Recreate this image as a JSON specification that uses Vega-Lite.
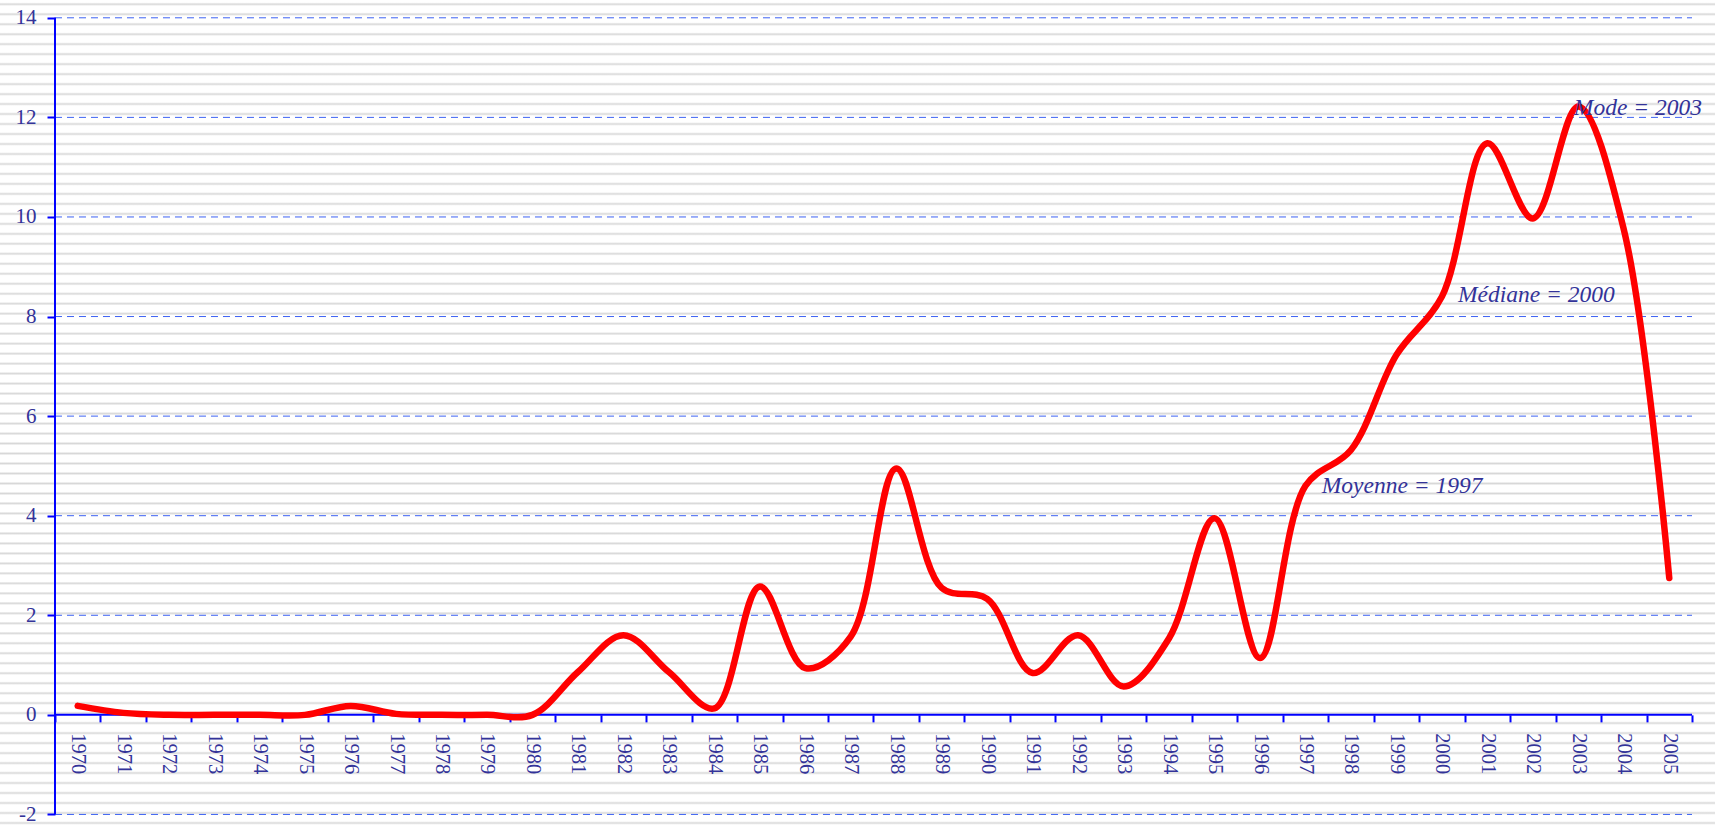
{
  "$schema": "https://vega.github.io/schema/vega-lite/v6.json",
  "width": 1715,
  "height": 825,
  "autosize": "none",
  "padding": 0,
  "background": "#ffffff",
  "view": {
    "stroke": null,
    "fill": {
      "gradient": "linear", "x1": 0, "y1": 0, "x2": 0, "y2": 1.2121212,
      "stops": [
        {"offset":0.0024,"color":"#fff"},{"offset":0.0042,"color":"#d8d8d8"},{"offset":0.0060,"color":"#fff"},
        {"offset":0.0124,"color":"#fff"},{"offset":0.0142,"color":"#d8d8d8"},{"offset":0.0160,"color":"#fff"},
        {"offset":0.0224,"color":"#fff"},{"offset":0.0242,"color":"#d8d8d8"},{"offset":0.0260,"color":"#fff"},
        {"offset":0.0324,"color":"#fff"},{"offset":0.0342,"color":"#d8d8d8"},{"offset":0.0360,"color":"#fff"},
        {"offset":0.0423,"color":"#fff"},{"offset":0.0441,"color":"#d8d8d8"},{"offset":0.0459,"color":"#fff"},
        {"offset":0.0523,"color":"#fff"},{"offset":0.0541,"color":"#d8d8d8"},{"offset":0.0559,"color":"#fff"},
        {"offset":0.0623,"color":"#fff"},{"offset":0.0641,"color":"#d8d8d8"},{"offset":0.0659,"color":"#fff"},
        {"offset":0.0723,"color":"#fff"},{"offset":0.0741,"color":"#d8d8d8"},{"offset":0.0759,"color":"#fff"},
        {"offset":0.0823,"color":"#fff"},{"offset":0.0841,"color":"#d8d8d8"},{"offset":0.0859,"color":"#fff"},
        {"offset":0.0923,"color":"#fff"},{"offset":0.0941,"color":"#d8d8d8"},{"offset":0.0959,"color":"#fff"},
        {"offset":0.1022,"color":"#fff"},{"offset":0.1040,"color":"#d8d8d8"},{"offset":0.1058,"color":"#fff"},
        {"offset":0.1122,"color":"#fff"},{"offset":0.1140,"color":"#d8d8d8"},{"offset":0.1158,"color":"#fff"},
        {"offset":0.1222,"color":"#fff"},{"offset":0.1240,"color":"#d8d8d8"},{"offset":0.1258,"color":"#fff"},
        {"offset":0.1322,"color":"#fff"},{"offset":0.1340,"color":"#d8d8d8"},{"offset":0.1358,"color":"#fff"},
        {"offset":0.1422,"color":"#fff"},{"offset":0.1440,"color":"#d8d8d8"},{"offset":0.1458,"color":"#fff"},
        {"offset":0.1522,"color":"#fff"},{"offset":0.1540,"color":"#d8d8d8"},{"offset":0.1558,"color":"#fff"},
        {"offset":0.1622,"color":"#fff"},{"offset":0.1640,"color":"#d8d8d8"},{"offset":0.1658,"color":"#fff"},
        {"offset":0.1721,"color":"#fff"},{"offset":0.1739,"color":"#d8d8d8"},{"offset":0.1757,"color":"#fff"},
        {"offset":0.1821,"color":"#fff"},{"offset":0.1839,"color":"#d8d8d8"},{"offset":0.1857,"color":"#fff"},
        {"offset":0.1921,"color":"#fff"},{"offset":0.1939,"color":"#d8d8d8"},{"offset":0.1957,"color":"#fff"},
        {"offset":0.2021,"color":"#fff"},{"offset":0.2039,"color":"#d8d8d8"},{"offset":0.2057,"color":"#fff"},
        {"offset":0.2121,"color":"#fff"},{"offset":0.2139,"color":"#d8d8d8"},{"offset":0.2157,"color":"#fff"},
        {"offset":0.2221,"color":"#fff"},{"offset":0.2239,"color":"#d8d8d8"},{"offset":0.2257,"color":"#fff"},
        {"offset":0.2321,"color":"#fff"},{"offset":0.2339,"color":"#d8d8d8"},{"offset":0.2357,"color":"#fff"},
        {"offset":0.2420,"color":"#fff"},{"offset":0.2438,"color":"#d8d8d8"},{"offset":0.2456,"color":"#fff"},
        {"offset":0.2520,"color":"#fff"},{"offset":0.2538,"color":"#d8d8d8"},{"offset":0.2556,"color":"#fff"},
        {"offset":0.2620,"color":"#fff"},{"offset":0.2638,"color":"#d8d8d8"},{"offset":0.2656,"color":"#fff"},
        {"offset":0.2720,"color":"#fff"},{"offset":0.2738,"color":"#d8d8d8"},{"offset":0.2756,"color":"#fff"},
        {"offset":0.2820,"color":"#fff"},{"offset":0.2838,"color":"#d8d8d8"},{"offset":0.2856,"color":"#fff"},
        {"offset":0.2920,"color":"#fff"},{"offset":0.2938,"color":"#d8d8d8"},{"offset":0.2956,"color":"#fff"},
        {"offset":0.3019,"color":"#fff"},{"offset":0.3037,"color":"#d8d8d8"},{"offset":0.3055,"color":"#fff"},
        {"offset":0.3119,"color":"#fff"},{"offset":0.3137,"color":"#d8d8d8"},{"offset":0.3155,"color":"#fff"},
        {"offset":0.3219,"color":"#fff"},{"offset":0.3237,"color":"#d8d8d8"},{"offset":0.3255,"color":"#fff"},
        {"offset":0.3319,"color":"#fff"},{"offset":0.3337,"color":"#d8d8d8"},{"offset":0.3355,"color":"#fff"},
        {"offset":0.3419,"color":"#fff"},{"offset":0.3437,"color":"#d8d8d8"},{"offset":0.3455,"color":"#fff"},
        {"offset":0.3519,"color":"#fff"},{"offset":0.3537,"color":"#d8d8d8"},{"offset":0.3555,"color":"#fff"},
        {"offset":0.3619,"color":"#fff"},{"offset":0.3637,"color":"#d8d8d8"},{"offset":0.3655,"color":"#fff"},
        {"offset":0.3718,"color":"#fff"},{"offset":0.3736,"color":"#d8d8d8"},{"offset":0.3754,"color":"#fff"},
        {"offset":0.3818,"color":"#fff"},{"offset":0.3836,"color":"#d8d8d8"},{"offset":0.3854,"color":"#fff"},
        {"offset":0.3918,"color":"#fff"},{"offset":0.3936,"color":"#d8d8d8"},{"offset":0.3954,"color":"#fff"},
        {"offset":0.4018,"color":"#fff"},{"offset":0.4036,"color":"#d8d8d8"},{"offset":0.4054,"color":"#fff"},
        {"offset":0.4118,"color":"#fff"},{"offset":0.4136,"color":"#d8d8d8"},{"offset":0.4154,"color":"#fff"},
        {"offset":0.4218,"color":"#fff"},{"offset":0.4236,"color":"#d8d8d8"},{"offset":0.4254,"color":"#fff"},
        {"offset":0.4318,"color":"#fff"},{"offset":0.4336,"color":"#d8d8d8"},{"offset":0.4354,"color":"#fff"},
        {"offset":0.4417,"color":"#fff"},{"offset":0.4435,"color":"#d8d8d8"},{"offset":0.4453,"color":"#fff"},
        {"offset":0.4517,"color":"#fff"},{"offset":0.4535,"color":"#d8d8d8"},{"offset":0.4553,"color":"#fff"},
        {"offset":0.4617,"color":"#fff"},{"offset":0.4635,"color":"#d8d8d8"},{"offset":0.4653,"color":"#fff"},
        {"offset":0.4717,"color":"#fff"},{"offset":0.4735,"color":"#d8d8d8"},{"offset":0.4753,"color":"#fff"},
        {"offset":0.4817,"color":"#fff"},{"offset":0.4835,"color":"#d8d8d8"},{"offset":0.4853,"color":"#fff"},
        {"offset":0.4917,"color":"#fff"},{"offset":0.4935,"color":"#d8d8d8"},{"offset":0.4953,"color":"#fff"},
        {"offset":0.5016,"color":"#fff"},{"offset":0.5034,"color":"#d8d8d8"},{"offset":0.5052,"color":"#fff"},
        {"offset":0.5116,"color":"#fff"},{"offset":0.5134,"color":"#d8d8d8"},{"offset":0.5152,"color":"#fff"},
        {"offset":0.5216,"color":"#fff"},{"offset":0.5234,"color":"#d8d8d8"},{"offset":0.5252,"color":"#fff"},
        {"offset":0.5316,"color":"#fff"},{"offset":0.5334,"color":"#d8d8d8"},{"offset":0.5352,"color":"#fff"},
        {"offset":0.5416,"color":"#fff"},{"offset":0.5434,"color":"#d8d8d8"},{"offset":0.5452,"color":"#fff"},
        {"offset":0.5516,"color":"#fff"},{"offset":0.5534,"color":"#d8d8d8"},{"offset":0.5552,"color":"#fff"},
        {"offset":0.5616,"color":"#fff"},{"offset":0.5634,"color":"#d8d8d8"},{"offset":0.5652,"color":"#fff"},
        {"offset":0.5715,"color":"#fff"},{"offset":0.5733,"color":"#d8d8d8"},{"offset":0.5751,"color":"#fff"},
        {"offset":0.5815,"color":"#fff"},{"offset":0.5833,"color":"#d8d8d8"},{"offset":0.5851,"color":"#fff"},
        {"offset":0.5915,"color":"#fff"},{"offset":0.5933,"color":"#d8d8d8"},{"offset":0.5951,"color":"#fff"},
        {"offset":0.6015,"color":"#fff"},{"offset":0.6033,"color":"#d8d8d8"},{"offset":0.6051,"color":"#fff"},
        {"offset":0.6115,"color":"#fff"},{"offset":0.6133,"color":"#d8d8d8"},{"offset":0.6151,"color":"#fff"},
        {"offset":0.6215,"color":"#fff"},{"offset":0.6233,"color":"#d8d8d8"},{"offset":0.6251,"color":"#fff"},
        {"offset":0.6315,"color":"#fff"},{"offset":0.6333,"color":"#d8d8d8"},{"offset":0.6351,"color":"#fff"},
        {"offset":0.6414,"color":"#fff"},{"offset":0.6432,"color":"#d8d8d8"},{"offset":0.6450,"color":"#fff"},
        {"offset":0.6514,"color":"#fff"},{"offset":0.6532,"color":"#d8d8d8"},{"offset":0.6550,"color":"#fff"},
        {"offset":0.6614,"color":"#fff"},{"offset":0.6632,"color":"#d8d8d8"},{"offset":0.6650,"color":"#fff"},
        {"offset":0.6714,"color":"#fff"},{"offset":0.6732,"color":"#d8d8d8"},{"offset":0.6750,"color":"#fff"},
        {"offset":0.6814,"color":"#fff"},{"offset":0.6832,"color":"#d8d8d8"},{"offset":0.6850,"color":"#fff"},
        {"offset":0.6914,"color":"#fff"},{"offset":0.6932,"color":"#d8d8d8"},{"offset":0.6950,"color":"#fff"},
        {"offset":0.7013,"color":"#fff"},{"offset":0.7031,"color":"#d8d8d8"},{"offset":0.7049,"color":"#fff"},
        {"offset":0.7113,"color":"#fff"},{"offset":0.7131,"color":"#d8d8d8"},{"offset":0.7149,"color":"#fff"},
        {"offset":0.7213,"color":"#fff"},{"offset":0.7231,"color":"#d8d8d8"},{"offset":0.7249,"color":"#fff"},
        {"offset":0.7313,"color":"#fff"},{"offset":0.7331,"color":"#d8d8d8"},{"offset":0.7349,"color":"#fff"},
        {"offset":0.7413,"color":"#fff"},{"offset":0.7431,"color":"#d8d8d8"},{"offset":0.7449,"color":"#fff"},
        {"offset":0.7513,"color":"#fff"},{"offset":0.7531,"color":"#d8d8d8"},{"offset":0.7549,"color":"#fff"},
        {"offset":0.7613,"color":"#fff"},{"offset":0.7631,"color":"#d8d8d8"},{"offset":0.7649,"color":"#fff"},
        {"offset":0.7712,"color":"#fff"},{"offset":0.7730,"color":"#d8d8d8"},{"offset":0.7748,"color":"#fff"},
        {"offset":0.7812,"color":"#fff"},{"offset":0.7830,"color":"#d8d8d8"},{"offset":0.7848,"color":"#fff"},
        {"offset":0.7912,"color":"#fff"},{"offset":0.7930,"color":"#d8d8d8"},{"offset":0.7948,"color":"#fff"},
        {"offset":0.8012,"color":"#fff"},{"offset":0.8030,"color":"#d8d8d8"},{"offset":0.8048,"color":"#fff"},
        {"offset":0.8112,"color":"#fff"},{"offset":0.8130,"color":"#d8d8d8"},{"offset":0.8148,"color":"#fff"},
        {"offset":0.8212,"color":"#fff"},{"offset":0.8230,"color":"#d8d8d8"},{"offset":0.8248,"color":"#fff"}
      ]
    }
  },
  "layer": [
    {
      "data": {"values": [{"g": -2}, {"g": 2}, {"g": 4}, {"g": 6}, {"g": 8}, {"g": 10}, {"g": 12}, {"g": 14}]},
      "mark": {"type": "rule", "stroke": "#3d62f2", "strokeWidth": 1, "strokeDash": [7, 5]},
      "encoding": {
        "x": {"datum": 1969.5, "type": "quantitative"},
        "x2": {"datum": 2005.5},
        "y": {"field": "g", "type": "quantitative"}
      }
    },
    {
      "data": {"values": [{}]},
      "mark": {"type": "rule", "stroke": "#0000ff", "strokeWidth": 2},
      "encoding": {
        "x": {"datum": 1969.5, "type": "quantitative"},
        "y": {"datum": -2, "type": "quantitative"},
        "y2": {"datum": 14}
      }
    },
    {
      "data": {"values": [{}]},
      "mark": {"type": "rule", "stroke": "#0000ff", "strokeWidth": 2},
      "encoding": {
        "x": {"datum": 1969.5, "type": "quantitative"},
        "x2": {"datum": 2005.5},
        "y": {"datum": 0, "type": "quantitative"}
      }
    },
    {
      "data": {"values": [
        {"year": 1970, "value": 0.18}, {"year": 1971, "value": 0.04}, {"year": 1972, "value": 0.0},
        {"year": 1973, "value": 0.0}, {"year": 1974, "value": 0.0}, {"year": 1975, "value": 0.0},
        {"year": 1976, "value": 0.18}, {"year": 1977, "value": 0.02}, {"year": 1978, "value": 0.0},
        {"year": 1979, "value": 0.0}, {"year": 1980, "value": 0.0}, {"year": 1981, "value": 0.86},
        {"year": 1982, "value": 1.6}, {"year": 1983, "value": 0.86}, {"year": 1984, "value": 0.13},
        {"year": 1985, "value": 2.58}, {"year": 1986, "value": 0.94}, {"year": 1987, "value": 1.57},
        {"year": 1988, "value": 4.95}, {"year": 1989, "value": 2.55}, {"year": 1990, "value": 2.33},
        {"year": 1991, "value": 0.84}, {"year": 1992, "value": 1.6}, {"year": 1993, "value": 0.57},
        {"year": 1994, "value": 1.54}, {"year": 1995, "value": 3.95}, {"year": 1996, "value": 1.14},
        {"year": 1997, "value": 4.6}, {"year": 1998, "value": 5.32}, {"year": 1999, "value": 7.23},
        {"year": 2000, "value": 8.4}, {"year": 2001, "value": 11.48}, {"year": 2002, "value": 9.97},
        {"year": 2003, "value": 12.22}, {"year": 2004, "value": 9.75}, {"year": 2005, "value": 2.75}
      ]},
      "mark": {"type": "line", "interpolate": "catmull-rom", "stroke": "#ff0000", "strokeWidth": 6.5, "strokeJoin": "round", "strokeCap": "round"},
      "encoding": {
        "x": {
          "field": "year", "type": "quantitative",
          "scale": {"domain": [1968.2905, 2006.0058], "nice": false, "zero": false},
          "axis": {
            "orient": "bottom", "offset": -110.13, "title": null, "domain": false, "grid": false,
            "values": [1969.5,1970.5,1971.5,1972.5,1973.5,1974.5,1975.5,1976.5,1977.5,1978.5,1979.5,1980.5,1981.5,1982.5,1983.5,1984.5,1985.5,1986.5,1987.5,1988.5,1989.5,1990.5,1991.5,1992.5,1993.5,1994.5,1995.5,1996.5,1997.5,1998.5,1999.5,2000.5,2001.5,2002.5,2003.5,2004.5,2005.5],
            "ticks": true, "tickSize": 7, "tickWidth": 2, "tickColor": "#0000ff",
            "labelExpr": "datum.value < 2005 ? format(datum.value + 0.5, 'd') : ''",
            "labelAngle": 90, "labelAlign": "left", "labelBaseline": "middle",
            "labelOffset": 22.74, "labelPadding": 11,
            "labelFont": "Liberation Serif", "labelFontSize": 20.5, "labelColor": "#333399",
            "labelOverlap": false, "labelFlush": false, "labelBound": false
          }
        },
        "y": {
          "field": "value", "type": "quantitative",
          "scale": {"domain": [-2.2121, 14.3575], "nice": false, "zero": false},
          "axis": {
            "orient": "left", "offset": -55, "title": null, "domain": false, "grid": false,
            "values": [-2, 0, 2, 4, 6, 8, 10, 12, 14],
            "ticks": true, "tickSize": 8, "tickWidth": 2, "tickColor": "#0000ff",
            "labelExpr": "'' + datum.value",
            "labelPadding": 11, "labelFont": "Liberation Serif", "labelFontSize": 21, "labelColor": "#333399",
            "labelOverlap": false, "labelFlush": false, "labelBound": false
          }
        }
      }
    },
    {
      "data": {"values": [{}]},
      "mark": {"type": "text", "text": "Mode = 2003", "align": "left", "baseline": "alphabetic", "dx": -4.5, "font": "Liberation Serif", "fontStyle": "italic", "fontSize": 23.5, "fill": "#333399"},
      "encoding": {
        "x": {"datum": 2003, "type": "quantitative"},
        "y": {"datum": 12.05, "type": "quantitative"}
      }
    },
    {
      "data": {"values": [{}]},
      "mark": {"type": "text", "text": "Médiane = 2000", "align": "left", "baseline": "alphabetic", "dx": 16, "font": "Liberation Serif", "fontStyle": "italic", "fontSize": 23.5, "fill": "#333399"},
      "encoding": {
        "x": {"datum": 2000, "type": "quantitative"},
        "y": {"datum": 8.3, "type": "quantitative"}
      }
    },
    {
      "data": {"values": [{}]},
      "mark": {"type": "text", "text": "Moyenne = 1997", "align": "left", "baseline": "alphabetic", "dx": 16.3, "font": "Liberation Serif", "fontStyle": "italic", "fontSize": 23.5, "fill": "#333399"},
      "encoding": {
        "x": {"datum": 1997, "type": "quantitative"},
        "y": {"datum": 4.45, "type": "quantitative"}
      }
    }
  ]
}
